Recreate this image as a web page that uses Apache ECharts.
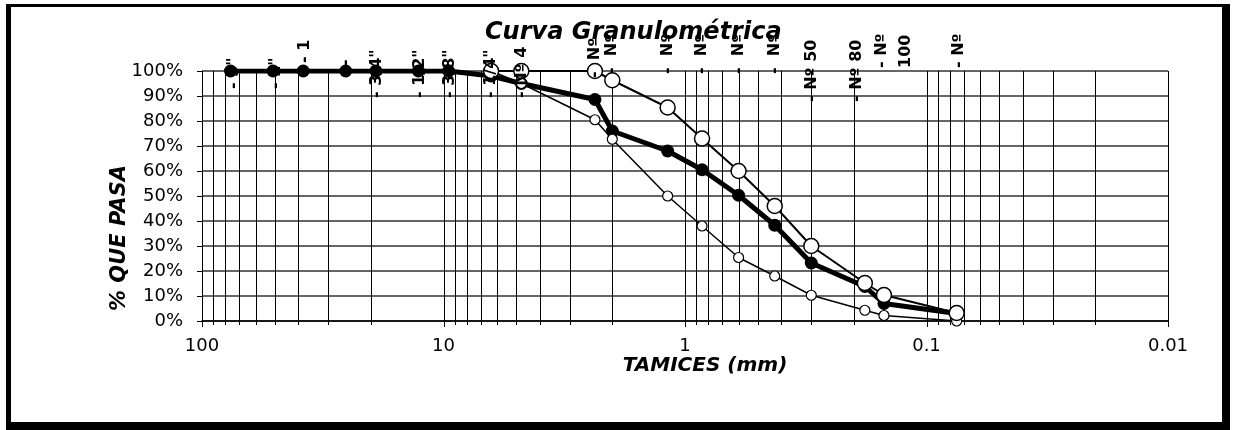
<!DOCTYPE html>
<html>
<head>
<meta charset="utf-8">
<script src="https://cdn.jsdelivr.net/npm/echarts@6/dist/echarts.min.js"></script>
<style>
html, body { margin: 0; padding: 0; background: #fff; }
#chart { width: 1235px; height: 430px; }
</style>
</head>
<body>
<div id="chart"></div>
<script>
// sieves: names and openings (mm)
const sieveNames = ['3"', '2"', '1 1/2"', '1"', '3/4"', '1/2"', '3/8"', '1/4"', 'Nº 4', 'Nº 8',
    'Nº 10', 'Nº 16', 'Nº 20', 'Nº 30', 'Nº 40', 'Nº 50', 'Nº 80', 'Nº 100', 'Nº 200']
const sieveSizes = [76.2, 50.8, 38.1, 25.4, 19.05, 12.7, 9.525, 6.35, 4.76, 2.36,
    2.0, 1.18, 0.85, 0.6, 0.425, 0.3, 0.18, 0.15, 0.075]

// % que pasa
const sample = [100, 100, 100, 100, 100, 100, 100, 98, 95, 88.6,
    76, 68, 60.5, 50.3, 38.3, 23.2, 13.8, 7, 3]
const upperLimit = [null, null, null, null, null, null, null, 100, 100, 100,
    96.3, 85.4, 73, 60, 46, 30, 15.2, 10.4, 3.2]
const lowerLimit = [null, null, null, null, null, null, null, 100, 95, 80.5,
    72.7, 50, 38, 25.4, 18, 10.3, 4.3, 2.2, 0]

// sieve labels along the top, as far as they show in the original
const topLabels = ['- 3"', '- 2"', '- 1', '-', '- 3/4"', '- 1/2"', '- 3/8"', '- 1/4"', '- Nº 4', '-  Nº',
    '-  Nº', '-  Nº', '-  Nº', '-  Nº', '-  Nº', '- Nº 50', '- Nº 80', '- Nº\n100', '- Nº']
// where each label starts (px below the 100% line) and sideways nudge (px)
const labelDrop = [18, 18, -8, -5, 27, 27, 27, 27, 27, 7, 3, 3, 3, 3, 3, 31, 31, -3, -3]
const labelShift = [3, 3, 2, 0, 1, 1, 1, 0, 0, 0, 0, 0, 0, 0, 0, 1, -8, 10, 2]

const xTicks = [100, 10, 1, 0.1, 0.01]
const yTicks = [0, 10, 20, 30, 40, 50, 60, 70, 80, 90, 100]

// log grid: 1..9 in every decade
const gridValues = []
xTicks.slice(1).reverse().forEach(d => {
    for (let m = 1; m <= 9; m++) gridValues.push(+(m * d).toPrecision(3))
})
gridValues.push(100)

const FONT = 'DejaVu Sans'

function pairs(vals) {
    return sieveSizes.map((s, i) => [s, vals[i]]).filter(p => p[1] != null)
}

const chart = echarts.init(document.getElementById('chart'))

const option = {
    animation: false,
    backgroundColor: '#fff',
    title: {
        text: 'Curva Granulométrica',
        left: 480,
        top: 16,
        textStyle: { fontFamily: FONT, fontSize: 24, fontWeight: 'bold', fontStyle: 'italic', color: '#000' }
    },
    grid: { left: 202, right: 67, top: 71, bottom: 109 },
    xAxis: {
        type: 'log',
        logBase: 10,
        min: 0.01,
        max: 100,
        inverse: true,
        axisLine: { show: true, lineStyle: { color: '#000', width: 1.5 } },
        axisTick: { show: false },
        splitLine: { show: false },
        axisLabel: {
            margin: 16,
            fontFamily: FONT,
            fontSize: 18,
            color: '#000',
            formatter: v => xTicks.find(t => Math.abs(Math.log10(t) - Math.log10(v)) < 1e-6) !== undefined ? String(v) : ''
        }
    },
    yAxis: {
        type: 'value',
        min: 0,
        max: 100,
        interval: 10,
        axisLine: { show: true, lineStyle: { color: '#000', width: 1 } },
        axisTick: { show: true, length: 5, lineStyle: { color: '#000' } },
        splitLine: { show: true, lineStyle: { color: '#333', width: 1.5 } },
        axisLabel: {
            margin: 19,
            fontFamily: FONT,
            fontSize: 18,
            color: '#000',
            formatter: v => yTicks.includes(v) ? v + '%' : ''
        }
    },
    graphic: [
        // frame with shadow on right/bottom
        { type: 'rect', shape: { x: 6, y: 4, width: 5, height: 426 }, style: { fill: '#000' } },
        { type: 'rect', shape: { x: 6, y: 4, width: 1224, height: 3 }, style: { fill: '#000' } },
        { type: 'rect', shape: { x: 1222, y: 4, width: 8, height: 426 }, style: { fill: '#000' } },
        { type: 'rect', shape: { x: 6, y: 422, width: 1224, height: 8 }, style: { fill: '#000' } },
        {
            type: 'text', x: 705, y: 366,
            style: {
                text: 'TAMICES (mm)', fill: '#000', align: 'center', verticalAlign: 'middle',
                font: 'italic bold 20px "DejaVu Sans"'
            }
        },
        {
            type: 'text', x: 120, y: 238, rotation: Math.PI / 2,
            style: {
                text: '% QUE PASA', fill: '#000', align: 'center', verticalAlign: 'middle',
                font: 'italic bold 21px "DejaVu Sans"'
            }
        }
    ],
    series: [
        {
            name: 'grid',
            type: 'custom',
            silent: true,
            clip: false,
            z: 1,
            data: gridValues.map(v => [v, 0]),
            renderItem: (params, api) => {
                const v = api.value(0)
                const top = api.coord([v, 100])
                const bot = api.coord([v, 0])
                const major = xTicks.some(t => Math.abs(Math.log10(t) - Math.log10(v)) < 1e-6)
                const x = Math.round(top[0]) + 0.5
                return {
                    type: 'line',
                    shape: { x1: x, y1: top[1], x2: x, y2: bot[1] + (major ? 6 : 4) },
                    style: { stroke: '#000', lineWidth: 1 }
                }
            }
        },
        {
            name: 'Muestra',
            type: 'line',
            z: 3,
            data: pairs(sample),
            showAllSymbol: true,
            symbol: 'circle',
            symbolSize: 13,
            itemStyle: { color: '#000' },
            lineStyle: { color: '#000', width: 5 }
        },
        {
            name: 'Límite inferior',
            type: 'line',
            z: 4,
            data: pairs(lowerLimit),
            showAllSymbol: true,
            symbol: 'circle',
            symbolSize: 10,
            itemStyle: { color: '#fff', borderColor: '#000', borderWidth: 1.2 },
            lineStyle: { color: '#000', width: 1.5 }
        },
        {
            name: 'Límite superior',
            type: 'line',
            z: 5,
            data: pairs(upperLimit),
            showAllSymbol: true,
            symbol: 'circle',
            symbolSize: 15,
            itemStyle: { color: '#fff', borderColor: '#000', borderWidth: 1.5 },
            lineStyle: { color: '#000', width: 2 }
        },
        {
            name: 'Tamices',
            type: 'scatter',
            z: 6,
            silent: true,
            symbol: 'circle',
            symbolSize: 1,
            itemStyle: { color: 'rgba(0,0,0,0)', opacity: 1 },
            data: sieveSizes.map((s, i) => ({
                value: [s, 100],
                name: sieveNames[i],
                label: {
                    show: true,
                    formatter: topLabels[i],
                    position: [labelShift[i] + 0.5, labelDrop[i] + 0.5],
                    rotate: 90,
                    align: 'left',
                    verticalAlign: 'middle',
                    lineHeight: 24,
                    fontFamily: FONT,
                    fontSize: 16,
                    fontWeight: 'bold',
                    color: '#000',
                    opacity: 1,
                    textBorderWidth: 0
                }
            }))
        }
    ]
}

chart.setOption(option)
</script>
</body>
</html>
